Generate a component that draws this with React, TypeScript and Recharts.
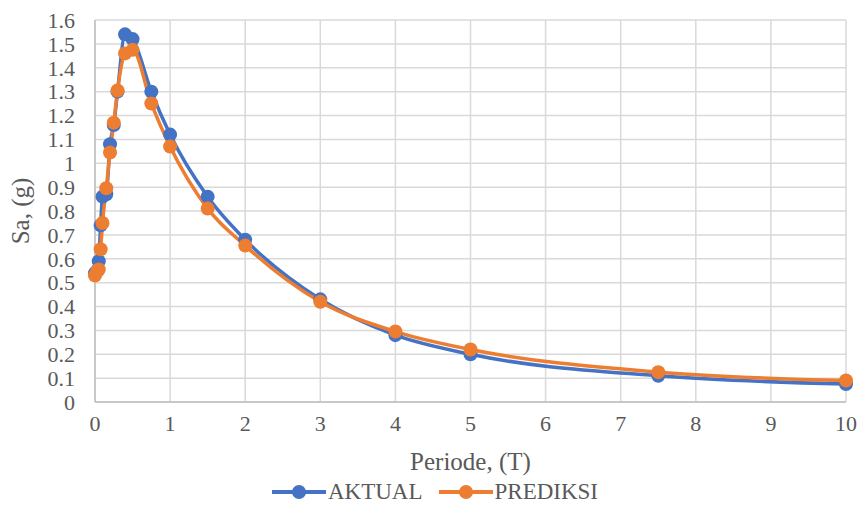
import React from "react";
import {
  LineChart,
  Line,
  XAxis,
  YAxis,
  CartesianGrid,
  Legend,
} from "recharts";

const PERIODS = [0, 0.03, 0.05, 0.075, 0.1, 0.15, 0.2, 0.25, 0.3, 0.4, 0.5, 0.75, 1, 1.5, 2, 3, 4, 5, 7.5, 10];
const AKTUAL = [0.54, 0.55, 0.59, 0.74, 0.86, 0.87, 1.08, 1.16, 1.3, 1.54, 1.52, 1.3, 1.12, 0.86, 0.68, 0.43, 0.28, 0.2, 0.11, 0.075];
const PREDIKSI = [0.53, 0.55, 0.555, 0.64, 0.75, 0.895, 1.045, 1.17, 1.305, 1.46, 1.475, 1.25, 1.07, 0.81, 0.655, 0.42, 0.295, 0.22, 0.125, 0.09];
const X_TICKS = [0, 1, 2, 3, 4, 5, 6, 7, 8, 9, 10];
const Y_TICKS = [0, 0.1, 0.2, 0.3, 0.4, 0.5, 0.6, 0.7, 0.8, 0.9, 1, 1.1, 1.2, 1.3, 1.4, 1.5, 1.6];

const data = PERIODS.map((t, i) => ({ t, aktual: AKTUAL[i], prediksi: PREDIKSI[i] }));

const FONT = "'Liberation Serif', 'Times New Roman', serif";
const TEXT = "#595959";
const BLUE = "#4472C4";
const ORANGE = "#ED7D31";

const LegendBox = () => (
  <div
    style={{
      display: "flex",
      justifyContent: "center",
      alignItems: "center",
      fontFamily: FONT,
      fontSize: 23,
      color: TEXT,
      gap: 16,
      height: 30,
      paddingLeft: 24,
    }}
  >
    {[
      { name: "AKTUAL", color: BLUE },
      { name: "PREDIKSI", color: ORANGE },
    ].map((s) => (
      <div key={s.name} style={{ display: "flex", alignItems: "center" }}>
        <svg width={54} height={16}>
          <line x1={0} y1={8} x2={54} y2={8} stroke={s.color} strokeWidth={4} />
          <circle cx={27} cy={8} r={7} fill={s.color} />
        </svg>
        <span style={{ marginLeft: 2 }}>{s.name}</span>
      </div>
    ))}
  </div>
);

const tickStyle = { fontFamily: FONT, fontSize: 22, fill: TEXT };

export default function App() {
  return (
    <div style={{ position: "fixed", left: 0, top: 0, background: "#fff" }}>
      <LineChart
        width={862}
        height={508}
        data={data}
        margin={{ top: 20, right: 16, left: 0, bottom: 1 }}
      >
        <CartesianGrid stroke="#D9D9D9" strokeWidth={1.5} />
        <XAxis
          dataKey="t"
          type="number"
          domain={[0, 10]}
          ticks={X_TICKS}
          interval={0}
          tickLine={false}
          axisLine={{ stroke: "#BFBFBF", strokeWidth: 1.5 }}
          tick={tickStyle}
          tickMargin={7}
          height={75}
          label={{
            value: "Periode, (T)",
            position: "insideBottom",
            offset: 7,
            style: { fontFamily: FONT, fontSize: 25, fill: TEXT },
          }}
        />
        <YAxis
          type="number"
          domain={[0, 1.6]}
          ticks={Y_TICKS}
          interval={0}
          tickLine={false}
          axisLine={{ stroke: "#BFBFBF", strokeWidth: 1.5 }}
          tick={tickStyle}
          width={95}
          tickMargin={14}
          label={{
            value: "Sa, (g)",
            angle: -90,
            position: "insideLeft",
            offset: 20,
            style: { fontFamily: FONT, fontSize: 25, fill: TEXT, textAnchor: "middle" },
          }}
        />
        <Legend verticalAlign="bottom" height={30} content={<LegendBox />} />
        <Line
          type="monotone"
          dataKey="aktual"
          name="AKTUAL"
          stroke={BLUE}
          strokeWidth={3.5}
          dot={{ r: 7, fill: BLUE, stroke: BLUE, strokeWidth: 0 }}
          isAnimationActive={false}
        />
        <Line
          type="monotone"
          dataKey="prediksi"
          name="PREDIKSI"
          stroke={ORANGE}
          strokeWidth={3.5}
          dot={{ r: 7, fill: ORANGE, stroke: ORANGE, strokeWidth: 0 }}
          isAnimationActive={false}
        />
      </LineChart>
    </div>
  );
}
